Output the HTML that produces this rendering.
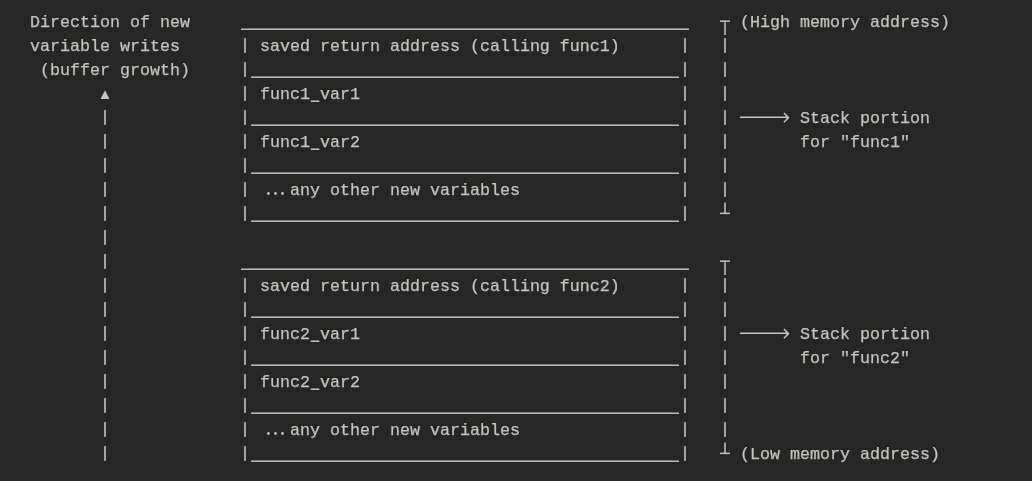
<!DOCTYPE html>
<html>
<head>
<meta charset="utf-8">
<title>stack</title>
<style>
html,body{margin:0;padding:0;}
body{width:1032px;height:481px;background:#262626;overflow:hidden;position:relative;}
.t{position:absolute;white-space:pre;font-family:"Liberation Mono",monospace;font-size:16.664px;line-height:24px;height:24px;color:#c5c3bd;letter-spacing:0;will-change:transform;-webkit-text-stroke:0.25px #c5c3bd;-webkit-font-smoothing:antialiased;}
svg{position:absolute;left:0;top:0;}
</style>
</head>
<body>
<div class="t" style="left:30px;top:11px">Direction of new</div>
<div class="t" style="left:740px;top:11px">(High memory address)</div>
<div class="t" style="left:30px;top:35px">variable writes</div>
<div class="t" style="left:260px;top:35px">saved return address (calling func1)</div>
<div class="t" style="left:40px;top:59px">(buffer growth)</div>
<div class="t" style="left:260px;top:83px">func1 var1</div>
<div class="t" style="left:800px;top:107px">Stack portion</div>
<div class="t" style="left:260px;top:131px">func1 var2</div>
<div class="t" style="left:800px;top:131px">for &quot;func1&quot;</div>
<div class="t" style="left:290px;top:179px">any other new variables</div>
<div class="t" style="left:260px;top:275px">saved return address (calling func2)</div>
<div class="t" style="left:260px;top:323px">func2 var1</div>
<div class="t" style="left:800px;top:323px">Stack portion</div>
<div class="t" style="left:800px;top:347px">for &quot;func2&quot;</div>
<div class="t" style="left:260px;top:371px">func2 var2</div>
<div class="t" style="left:290px;top:419px">any other new variables</div>
<div class="t" style="left:740px;top:443px">(Low memory address)</div>
<svg width="1032" height="481" viewBox="0 0 1032 481" fill="#c5c3bd" stroke="none">
<rect x="104.2" y="110.1" width="1.6" height="14.8"/>
<rect x="104.2" y="134.1" width="1.6" height="14.8"/>
<rect x="104.2" y="158.1" width="1.6" height="14.8"/>
<rect x="104.2" y="182.1" width="1.6" height="14.8"/>
<rect x="104.2" y="206.1" width="1.6" height="14.8"/>
<rect x="104.2" y="230.1" width="1.6" height="14.8"/>
<rect x="104.2" y="254.1" width="1.6" height="14.8"/>
<rect x="104.2" y="278.1" width="1.6" height="14.8"/>
<rect x="104.2" y="302.1" width="1.6" height="14.8"/>
<rect x="104.2" y="326.1" width="1.6" height="14.8"/>
<rect x="104.2" y="350.1" width="1.6" height="14.8"/>
<rect x="104.2" y="374.1" width="1.6" height="14.8"/>
<rect x="104.2" y="398.1" width="1.6" height="14.8"/>
<rect x="104.2" y="422.1" width="1.6" height="14.8"/>
<rect x="104.2" y="446.1" width="1.6" height="14.8"/>
<rect x="244.2" y="38.1" width="1.6" height="14.8"/>
<rect x="684.2" y="38.1" width="1.6" height="14.8"/>
<rect x="244.2" y="62.1" width="1.6" height="14.8"/>
<rect x="684.2" y="62.1" width="1.6" height="14.8"/>
<rect x="244.2" y="86.1" width="1.6" height="14.8"/>
<rect x="684.2" y="86.1" width="1.6" height="14.8"/>
<rect x="244.2" y="110.1" width="1.6" height="14.8"/>
<rect x="684.2" y="110.1" width="1.6" height="14.8"/>
<rect x="244.2" y="134.1" width="1.6" height="14.8"/>
<rect x="684.2" y="134.1" width="1.6" height="14.8"/>
<rect x="244.2" y="158.1" width="1.6" height="14.8"/>
<rect x="684.2" y="158.1" width="1.6" height="14.8"/>
<rect x="244.2" y="182.1" width="1.6" height="14.8"/>
<rect x="684.2" y="182.1" width="1.6" height="14.8"/>
<rect x="244.2" y="206.1" width="1.6" height="14.8"/>
<rect x="684.2" y="206.1" width="1.6" height="14.8"/>
<rect x="244.2" y="278.1" width="1.6" height="14.8"/>
<rect x="684.2" y="278.1" width="1.6" height="14.8"/>
<rect x="244.2" y="302.1" width="1.6" height="14.8"/>
<rect x="684.2" y="302.1" width="1.6" height="14.8"/>
<rect x="244.2" y="326.1" width="1.6" height="14.8"/>
<rect x="684.2" y="326.1" width="1.6" height="14.8"/>
<rect x="244.2" y="350.1" width="1.6" height="14.8"/>
<rect x="684.2" y="350.1" width="1.6" height="14.8"/>
<rect x="244.2" y="374.1" width="1.6" height="14.8"/>
<rect x="684.2" y="374.1" width="1.6" height="14.8"/>
<rect x="244.2" y="398.1" width="1.6" height="14.8"/>
<rect x="684.2" y="398.1" width="1.6" height="14.8"/>
<rect x="244.2" y="422.1" width="1.6" height="14.8"/>
<rect x="684.2" y="422.1" width="1.6" height="14.8"/>
<rect x="244.2" y="446.1" width="1.6" height="14.8"/>
<rect x="684.2" y="446.1" width="1.6" height="14.8"/>
<rect x="724.2" y="38.1" width="1.6" height="14.8"/>
<rect x="724.2" y="62.1" width="1.6" height="14.8"/>
<rect x="724.2" y="86.1" width="1.6" height="14.8"/>
<rect x="724.2" y="110.1" width="1.6" height="14.8"/>
<rect x="724.2" y="134.1" width="1.6" height="14.8"/>
<rect x="724.2" y="158.1" width="1.6" height="14.8"/>
<rect x="724.2" y="182.1" width="1.6" height="14.8"/>
<rect x="724.2" y="278.1" width="1.6" height="14.8"/>
<rect x="724.2" y="302.1" width="1.6" height="14.8"/>
<rect x="724.2" y="326.1" width="1.6" height="14.8"/>
<rect x="724.2" y="350.1" width="1.6" height="14.8"/>
<rect x="724.2" y="374.1" width="1.6" height="14.8"/>
<rect x="724.2" y="398.1" width="1.6" height="14.8"/>
<rect x="724.2" y="422.1" width="1.6" height="14.8"/>
<rect x="241" y="28.45" width="448" height="1.5"/>
<rect x="241" y="268.45" width="448" height="1.5"/>
<rect x="251" y="76.45" width="428" height="1.5"/>
<rect x="251" y="124.45" width="428" height="1.5"/>
<rect x="251" y="172.45" width="428" height="1.5"/>
<rect x="251" y="220.45" width="428" height="1.5"/>
<rect x="251" y="316.45" width="428" height="1.5"/>
<rect x="251" y="364.45" width="428" height="1.5"/>
<rect x="251" y="412.45" width="428" height="1.5"/>
<rect x="251" y="460.45" width="428" height="1.5"/>
<rect x="310.8" y="100.45" width="8.5" height="1.5"/>
<rect x="310.8" y="148.45" width="8.5" height="1.5"/>
<rect x="310.8" y="340.45" width="8.5" height="1.5"/>
<rect x="310.8" y="388.45" width="8.5" height="1.5"/>
<rect x="720" y="20.4" width="10" height="1.5"/><rect x="724.25" y="21" width="1.5" height="14"/>
<rect x="720" y="260.4" width="10" height="1.5"/><rect x="724.25" y="261" width="1.5" height="14"/>
<rect x="720" y="212.6" width="10" height="1.5"/><rect x="724.25" y="202.5" width="1.5" height="11"/>
<rect x="720" y="452.6" width="10" height="1.5"/><rect x="724.25" y="442.5" width="1.5" height="11"/>
<path d="M740 117.3H788.2M783.9 113.0L788.5 117.6L783.9 122.2" fill="none" stroke="#c5c3bd" stroke-width="1.5" stroke-linejoin="round" stroke-linecap="butt"/>
<path d="M740 333.3H788.2M783.9 329.0L788.5 333.6L783.9 338.2" fill="none" stroke="#c5c3bd" stroke-width="1.5" stroke-linejoin="round" stroke-linecap="butt"/>
<path d="M105 90.2L109.45 99H100.55Z"/>
<circle cx="268.4" cy="193.5" r="1.4"/>
<circle cx="275.4" cy="193.5" r="1.4"/>
<circle cx="282.4" cy="193.5" r="1.4"/>
<circle cx="268.4" cy="433.5" r="1.4"/>
<circle cx="275.4" cy="433.5" r="1.4"/>
<circle cx="282.4" cy="433.5" r="1.4"/>
</svg>
</body>
</html>
